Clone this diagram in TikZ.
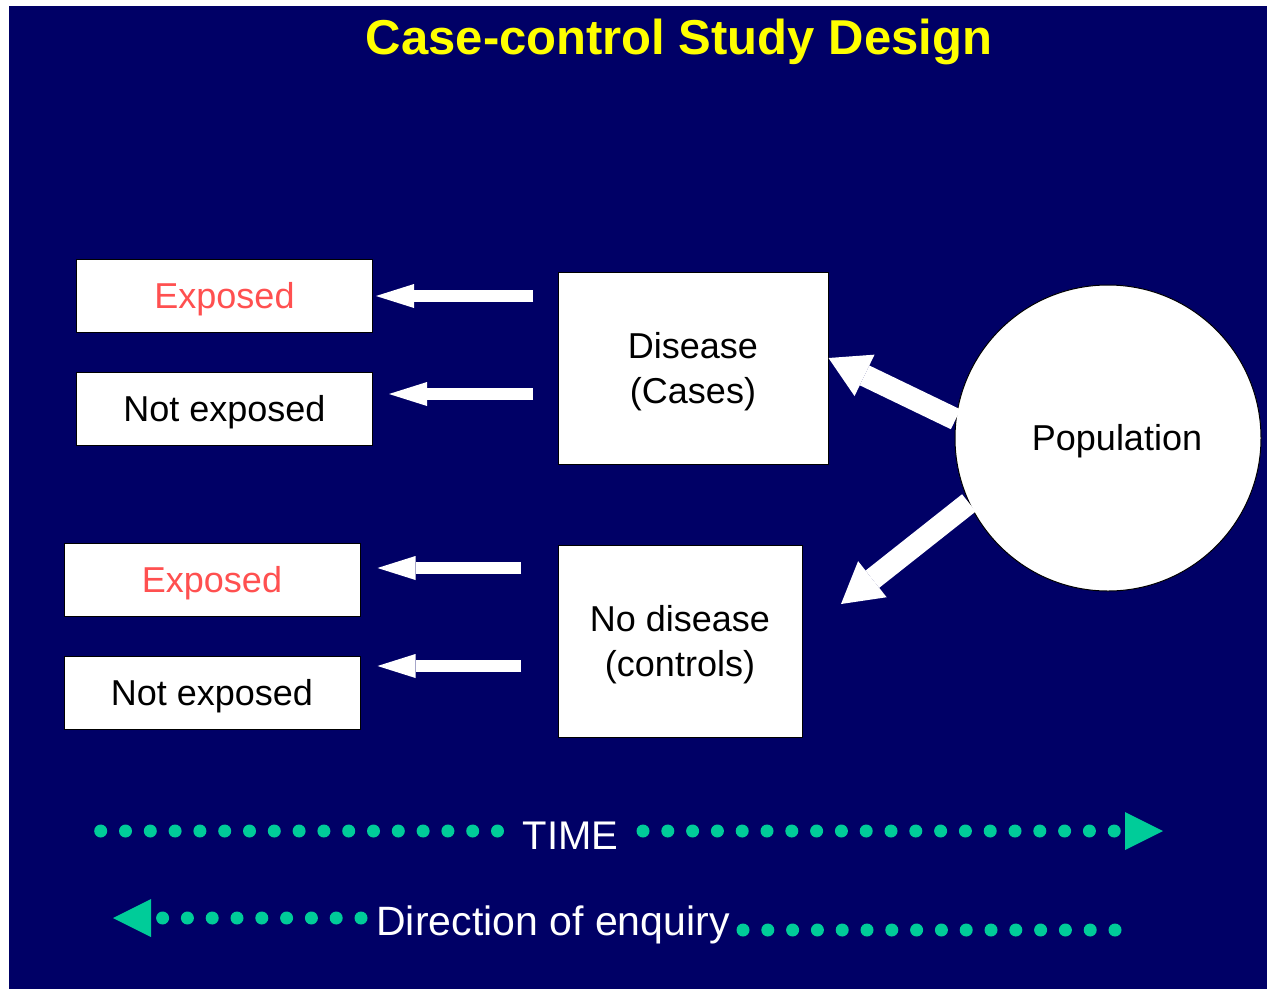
\documentclass[tikz,border=0pt]{standalone}
\usepackage{fontspec}
\setmainfont{Liberation Sans}
\usepackage{tikz}
\usetikzlibrary{calc}
\usetikzlibrary{arrows.meta,shapes}
\usetikzlibrary{positioning}
\definecolor{navy}{RGB}{0,0,102}
\definecolor{dotgreen}{RGB}{0,204,153}
\definecolor{titleyellow}{RGB}{255,255,0}
\definecolor{expred}{RGB}{255,80,80}
\newcommand{\boxfont}{\fontsize{36}{45}\selectfont}
\newcommand{\timefont}{\fontsize{40}{45}\selectfont}

\begin{document}
\begin{tikzpicture}
    [x=1pt,y=-1pt,
    every node/.style={font=\boxfont},
    smallbox/.style={draw=black,line width=1pt,fill=white,minimum width=296pt,minimum height=73pt,inner sep=0pt,text height=25.8pt,text depth=0pt},
    bigbox/.style={draw=black,line width=1pt,fill=white,minimum height=192pt,inner sep=0pt,align=center,text height=70.8pt,text depth=0pt},
    popcircle/.style={draw=black,line width=1pt,fill=white,circle,minimum size=306pt,inner sep=0pt},
    hbarrow/.style={draw=white,line width=12pt,-{Triangle[length=38pt,width=24pt,line width=0pt]}},
    dbarrow/.style={draw=white,line width=22pt,-{Triangle[length=40pt,width=46pt,line width=0pt]}},
    dotline/.style={draw=dotgreen,line width=13pt,line cap=round,dash pattern=on 0pt off 24.8pt},
    dotarrow/.style={dotline,-{Triangle[length=38pt,width=38pt,line width=0pt]}},
    timelabel/.style={text=white,font=\timefont,anchor=base,inner sep=0pt}]
  \useasboundingbox (0,0) rectangle (1267,989);
  \fill[white] (0,0) rectangle (1267,989);
  \fill[navy] (9,6) rectangle (1267,989);

  \node[text=titleyellow,font=\fontsize{49}{55}\selectfont\bfseries,anchor=base] (title) at (679,54) {Case-control Study Design};

  \node[smallbox,text=expred] (ex1) at (224.5,295.5) {Exposed};
  \node[smallbox,below=39pt of ex1] (ne1) {Not exposed};
  \node[smallbox,text=expred] (ex2) at (212,580) {Exposed};
  \node[smallbox,below=39pt of ex2] (ne2) {Not exposed};

  \node[bigbox,minimum width=270pt] (dis) at (693,368) {Disease\\(Cases)};
  \node[bigbox,minimum width=244pt,below=80pt of dis.south west,anchor=north west] (nodis) {No disease\\(controls)};

  \node[popcircle,label={[xshift=9pt,text height=25.8pt,text depth=0pt]center:Population}] (pop) at (1108,438) {};

  \coordinate (a1) at (533,296);
  \coordinate (a2) at (533,394);
  \coordinate (a3) at (521,568);
  \coordinate (a4) at (521,666);
  \draw[hbarrow,shorten >=3pt] (a1) -- (a1 -| ex1.east);
  \draw[hbarrow,shorten >=16pt] (a2) -- (a2 -| ne1.east);
  \draw[hbarrow,shorten >=17pt] (a3) -- (a3 -| ex2.east);
  \draw[hbarrow,shorten >=17pt] (a4) -- (a4 -| ne2.east);

  \coordinate (c2) at (841,604);
  \draw[dbarrow] (pop.173) -- ([yshift=10pt]dis.east);
  \draw[dbarrow] (pop.205) -- (c2);

  \node[timelabel] (time) at (570.5,849) {TIME};
  \node[timelabel,font=\fontsize{41}{45}\selectfont] (enq) at (553,935) {Direction of enquiry};
  \coordinate (t1) at (100.7,831);
  \coordinate (t2) at (643,831);
  \coordinate (t3) at (1163,831);
  \draw[dotline] (t1) -- ([xshift=-10pt]time.west |- t1);
  \draw[dotarrow] (t2) -- (t3);
  \coordinate (e1) at (361,918);
  \coordinate (e2) at (113,918);
  \coordinate (e3) at (743,930);
  \coordinate (e4) at (1120,930);
  \draw[dotarrow] (e1) -- (e2);
  \draw[dotline] (e3) -- (e4);
\end{tikzpicture}
\end{document}
